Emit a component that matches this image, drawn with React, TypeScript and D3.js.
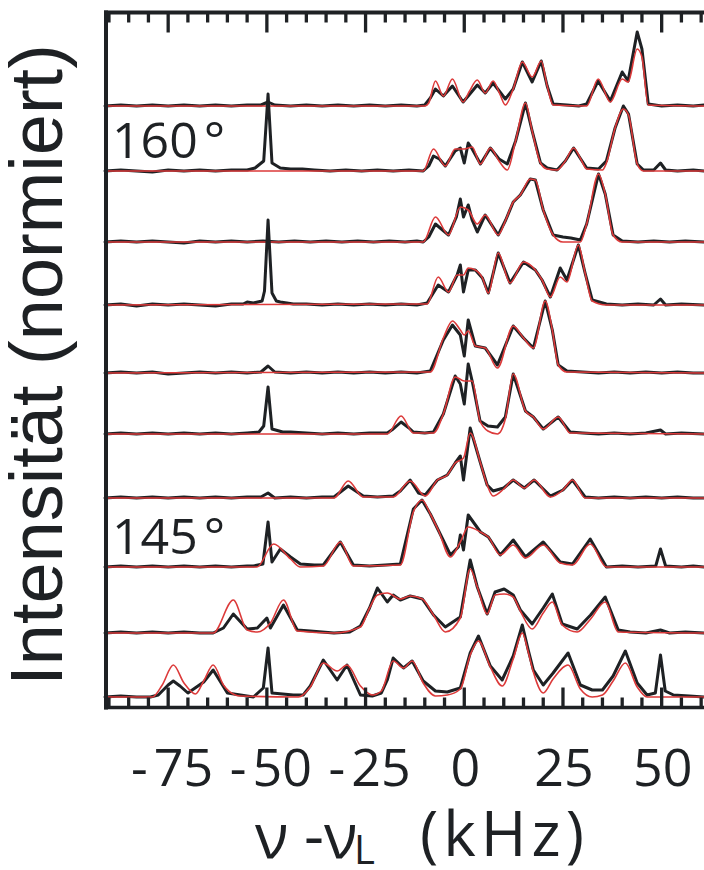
import React from "react";
import * as d3 from "d3";

type P = [number, number];

// x: nu - nu_L (kHz); y: normalized intensity (arbitrary units)
const offsets = [591, 526, 455, 392, 324, 263, 199, 130, 64, 0];

const exp1: P[] = [[-91,0],[-87,1],[-83,0],[-79,1],[-75,0],[-71,1],[-67,0],[-63,1],[-59,0],[-55,1],[-51.5,1],[-49.7,4],[-48,1],[-44,0],[-40,1],[-36,0],[-32,1],[-28,0],[-24,1],[-20,0],[-16,1],[-12,0],[-10,1],[-8.6,8],[-7.3,17],[-5.3,10],[-3.0,20],[-0.3,4],[1,10],[3.3,21],[5.3,13],[7.3,23],[10.4,7],[12.4,17],[14.7,44],[17.2,24],[19.5,45],[21,20],[22.5,2],[26,1],[29,0],[31,2],[33.9,25],[37,5],[40,34],[41.5,25],[43.8,74],[45,57],[46.6,2],[50,0],[54,1],[58,0],[61,1]];
const fit1: P[] = [[-91,0],[-10,0],[-9,3],[-7.3,25],[-5.3,10],[-3.0,27],[-0.3,4],[1.2,14],[3.3,26],[5.3,13],[7.3,25],[9,12],[10.4,1],[12.4,17],[14.7,44],[17.2,29],[19.5,45],[21,20],[22.5,1],[31,0],[33.9,27],[37,4],[40,27],[41.5,24],[43.8,57],[45,49],[46.6,1],[61,0]];

const exp2: P[] = [[-91,0],[-87,1],[-83,0],[-79,-1],[-75,1],[-71,0],[-67,1],[-63,0],[-59,1],[-55,1],[-53,3],[-50.8,10],[-49.7,77],[-48.7,8],[-46.6,3],[-44,2],[-41,2],[-38,1],[-34,0],[-30,1],[-26,0],[-22,1],[-18,0],[-14,1],[-10.4,0],[-9,5],[-7.8,15],[-6.3,12],[-4.8,5],[-2.3,20],[-1,23],[0,8],[1,28],[2,22],[4.1,7],[6.6,23],[8.8,12],[10.9,7],[13,30],[15.5,68],[17.2,40],[19.3,8],[21,3],[23.5,1],[25.6,10],[27.7,23],[29.5,12],[31,3],[34,2],[36,10],[38.2,43],[40.3,65],[41.6,57],[43.8,7],[45.4,1],[48,1],[49.7,8],[51,1],[54,0],[58,1],[61,0]];
const fit2: P[] = [[-91,0],[-10.4,0],[-7.8,22],[-4.8,5],[-2.3,22],[0,22],[2,24],[4.1,7],[6.6,23],[8.8,10],[10.9,1],[13,30],[15.5,68],[17.2,40],[19.3,8],[21,2],[23.5,1],[25.6,10],[27.7,23],[29.5,12],[31,2],[35,1],[36,8],[38.2,43],[40.3,62],[41.6,56],[43.8,7],[45.4,0],[61,0]];

const exp3: P[] = [[-91,0],[-87,1],[-83,0],[-79,1],[-75,0],[-71,-1],[-67,1],[-63,0],[-59,1],[-55,0],[-51,1],[-47,0],[-43,1],[-39,0],[-35,1],[-31,0],[-27,1],[-23,0],[-19,1],[-15,0],[-12,1],[-10.4,0],[-9,5],[-7.3,18],[-4,7],[-2,25],[-1,43],[-0.2,25],[1,37],[2,22],[3.3,10],[5.3,27],[8.6,7],[10.5,22],[12.4,40],[14.2,47],[16.7,63],[18,62],[20,32],[22.5,7],[25,5],[27,4],[29.4,2],[31,18],[34,68],[35.7,48],[37.7,7],[40,1],[44,0],[48,1],[52,0],[56,1],[61,0]];
const fit3: P[] = [[-91,0],[-10.4,0],[-7.3,25],[-4,7],[-1,35],[1,32],[3.3,18],[5.3,27],[8.6,7],[10.5,22],[12.4,40],[14.2,47],[16.7,63],[18,62],[20,32],[22.5,7],[25,0],[29.4,0],[31,18],[34,68],[35.7,48],[37.7,7],[40,0],[61,0]];

const exp4: P[] = [[-91,0],[-87,1],[-83,-1],[-79,1],[-75,0],[-71,1],[-67,0],[-63,-1],[-59,1],[-56,1],[-55,3],[-53.4,2],[-51.2,4],[-50.6,14],[-49.7,85],[-48.7,12],[-47.6,4],[-46.6,3],[-43.3,1],[-40,1],[-36,0],[-32,1],[-28,0],[-24,1],[-20,0],[-16,1],[-12,0],[-9.4,2],[-6.6,20],[-4,13],[-1.8,30],[-1,40],[-0.2,13],[1,35],[2.8,35],[4.6,27],[6.1,12],[8.6,52],[11.6,22],[15,43],[18,35],[19.7,25],[21.8,8],[24.3,37],[26,25],[28.9,60],[30.6,32],[32.4,5],[36,1],[40,0],[44,1],[48,0],[49.7,6],[51,0],[55,1],[61,0]];
const fit4: P[] = [[-91,0],[-9.4,1],[-6.6,28],[-4,13],[-1.8,30],[-0.2,30],[1,37],[2.8,35],[4.6,27],[6.1,12],[8.6,52],[11.6,22],[15,43],[18,35],[19.7,25],[21.8,8],[24.3,28],[26,23],[28.9,60],[30.6,32],[32.4,4],[36,0],[61,0]];

const exp5: P[] = [[-91,0],[-87,1],[-83,0],[-79,1],[-75,-1],[-71,0],[-67,1],[-63,0],[-59,1],[-55,0],[-51.5,1],[-49.7,7],[-48,1],[-44,0],[-40,1],[-36,0],[-32,1],[-28,0],[-24,1],[-20,0],[-16,1],[-12,0],[-8.6,2],[-5.3,33],[-3.0,48],[-1,38],[0,17],[1,53],[2.8,27],[5.3,25],[8.4,8],[12.4,47],[15,35],[17.5,25],[20.5,72],[22.3,43],[23.8,8],[26,2],[30,1],[34,0],[38,1],[42,0],[46,1],[50,0],[54,1],[58,0],[61,0]];
const fit5: P[] = [[-91,0],[-8.6,1],[-5.3,35],[-3.0,52],[-1,43],[0,38],[1,42],[2.8,27],[5.3,25],[8.4,5],[12.4,47],[15,35],[17.5,25],[20.5,72],[22.3,43],[23.8,8],[26,1],[61,0]];

const exp6: P[] = [[-91,0],[-87,1],[-83,0],[-79,1],[-75,0],[-71,1],[-67,0],[-63,1],[-59,0],[-55,1],[-52,2],[-50.8,8],[-49.7,47],[-48.7,5],[-46,2],[-44,2],[-40,1],[-36,0],[-32,1],[-28,0],[-24,1],[-19.5,1],[-18,5],[-16,12],[-14,6],[-12.9,2],[-10,1],[-7.8,2],[-5.3,20],[-2.3,58],[-1,50],[0,30],[1,70],[2,53],[4,13],[6,8],[8.4,7],[10.4,17],[12.4,60],[15.5,23],[17.5,17],[20,5],[23.8,17],[26.8,2],[30,1],[34,0],[38,1],[42,0],[46,1],[49.7,4],[51,0],[55,1],[61,0]];
const fit6: P[] = [[-91,0],[-19.5,0],[-16,18],[-12.9,1],[-7.8,1],[-5.3,20],[-2.3,57],[0,53],[2,53],[4,13],[6,3],[8.4,0],[10.4,15],[12.4,60],[15.5,23],[17.5,17],[20,5],[23.8,17],[26.8,1],[61,0]];

const exp7: P[] = [[-91,0],[-87,1],[-83,0],[-79,1],[-75,0],[-71,1],[-67,0],[-63,1],[-59,0],[-55,1],[-51.5,1],[-49.7,5],[-48,0],[-44,1],[-40,0],[-36,1],[-33,1],[-29.4,12],[-25.6,2],[-22,1],[-18,2],[-16.2,7],[-13.7,18],[-11.6,5],[-9.9,3],[-6.8,18],[-4.3,23],[-2.3,35],[-1,42],[-0.2,18],[1.5,70],[4.1,35],[5.8,13],[7.3,7],[10,10],[12.4,18],[15.2,10],[17.7,18],[21.8,2],[25,8],[27.4,18],[30.6,1],[34,0],[38,1],[42,0],[46,1],[50,0],[54,1],[58,0],[61,0]];
const fit7: P[] = [[-91,0],[-33,0],[-29.4,17],[-25.6,1],[-18,1],[-13.7,17],[-9.9,2],[-6.8,18],[-4.3,23],[-2.3,35],[-0.2,40],[1.5,65],[4.1,35],[5.8,13],[7.3,2],[10,9],[12.4,18],[15.2,10],[17.7,18],[21.8,1],[25,8],[27.4,18],[30.6,0],[61,0]];

const exp8: P[] = [[-91,0],[-87,1],[-83,0],[-79,1],[-75,0],[-71,1],[-67,0],[-63,1],[-59,0],[-55,1],[-53.4,1],[-51,3],[-49.7,45],[-48.7,5],[-46.6,18],[-44,10],[-41.5,3],[-38,2],[-35.7,2],[-31.4,25],[-28.1,2],[-24,1],[-20,2],[-16.2,3],[-12.9,58],[-10.7,67],[-8.6,53],[-6.6,37],[-3.5,12],[-1.5,20],[-1,32],[-0.2,17],[1,52],[4.1,35],[6.1,30],[9.1,12],[12.4,27],[15.5,10],[20,25],[24.3,5],[27.4,3],[31.9,28],[36,0],[40,1],[44,0],[48.5,1],[49.7,18],[51,1],[55,0],[58,1],[61,0]];
const fit8: P[] = [[-91,0],[-52.5,0],[-48.3,23],[-44,8],[-41.5,0],[-35.7,1],[-31.4,25],[-28.1,1],[-16.2,2],[-12.9,55],[-10.7,67],[-8.6,53],[-6.6,37],[-3.5,10],[-1,25],[1,40],[4.1,35],[6.1,30],[9.1,12],[12.4,22],[15.5,9],[20,22],[24.3,4],[27.4,2],[31.9,23],[36,0],[61,0]];

const exp9: P[] = [[-91,0],[-87,1],[-83,0],[-79,1],[-75,0],[-71,1],[-67,0],[-63.6,0],[-61,5],[-58.5,19],[-55,4],[-52.4,5],[-50,15],[-49.1,5],[-45.8,28],[-42.3,3],[-39,2],[-36,1],[-33,0],[-29,1],[-26.3,7],[-24,25],[-22,45],[-19.5,31],[-18,38],[-16.2,33],[-13.7,37],[-10.6,34],[-7.8,18],[-4.8,6],[-1,16],[1.5,73],[3.3,46],[5.8,19],[7.8,41],[10.1,44],[12.4,38],[14.2,23],[17.2,9],[20,25],[22.3,39],[24.8,9],[28.6,4],[32,18],[35.7,36],[39,3],[42,1],[46,0],[49.7,3],[52,0],[56,1],[61,0]];
const fit9: P[] = [[-91,0],[-63.6,0],[-58.5,33],[-55,3],[-52.4,1],[-49.1,10],[-45.8,33],[-42.3,2],[-33,0],[-26.3,6],[-24,25],[-22,38],[-19.5,40],[-16.2,34],[-13.7,37],[-10.6,34],[-7.8,18],[-4.8,1],[-1,15],[1.5,64],[3.3,46],[5.8,19],[7.8,38],[10.1,39],[12.4,36],[14.2,22],[17.2,4],[20,20],[22.3,31],[24.8,8],[28.6,1],[32,14],[35.7,31],[39,1],[61,0]];

const exp10: P[] = [[-91,0],[-87,1],[-83,0],[-79.5,0],[-77.5,2],[-75,12],[-73.7,16],[-72,11],[-70,4],[-66,15],[-63.6,27],[-60,4],[-56.7,2],[-53.4,0],[-50.9,9],[-49.7,49],[-48.7,4],[-46,3],[-43.3,2],[-40.8,2],[-39,11],[-35.7,37],[-32.2,17],[-29.7,32],[-26.3,2],[-23.3,1],[-21,4],[-19.5,17],[-18,39],[-15.4,29],[-13.2,36],[-10.4,16],[-7.3,6],[-4.3,5],[-1,9],[1.5,44],[3.6,61],[6.6,31],[9.6,17],[12.4,41],[14.7,72],[16.2,47],[17.5,27],[20,12],[22.5,24],[26.3,44],[29.4,12],[32.4,7],[35,7],[37.7,21],[40.8,46],[43.8,14],[46.3,2],[48.4,4],[49.7,42],[50.9,6],[53,2],[57,1],[61,0]];
const fit10: P[] = [[-91,0],[-79,0],[-76.5,12],[-73.7,32],[-71,14],[-68.1,3],[-66,16],[-63.6,32],[-61,12],[-58,2],[-56.7,1],[-42,0],[-39,10],[-35.7,34],[-32.2,26],[-29.7,32],[-26.3,11],[-23.3,2],[-21,6],[-18,36],[-15.4,29],[-13.2,36],[-10.4,14],[-7.3,1],[-4.3,2],[-1,8],[1.5,42],[3.6,56],[6.6,30],[9.6,11],[12.4,38],[14.7,64],[16.2,45],[17.5,25],[20,4],[22.5,18],[26.3,32],[29.4,8],[32.4,0],[35,2],[37.7,16],[40.8,34],[43.8,10],[46.3,0],[61,0]];

const expSeries = [exp1, exp2, exp3, exp4, exp5, exp6, exp7, exp8, exp9, exp10];
const fitSeries = [fit1, fit2, fit3, fit4, fit5, fit6, fit7, fit8, fit9, fit10];

const xTickLabels = [-75, -50, -25, 0, 25, 50];
const angleLabels = [
  { trace: 1, text: "160" },
  { trace: 7, text: "145" },
];

const W = 704;
const H = 870;
const INK = "#1e2124";
const RED = "#dc3a3a";

export default function App() {
  const x = d3.scaleLinear().domain([-91, 61]).range([105, 705.1]);
  const y = d3.scaleLinear().domain([0, 687]).range([697, 10]);

  const lineFor = (off: number, curve: d3.CurveFactory) =>
    d3
      .line<P>()
      .x((d) => x(d[0]))
      .y((d) => y(d[1] + off))
      .curve(curve);

  const ticks = d3.range(-90, 61, 5);
  const left = 106;
  const topY = 12.5;
  const botY = 707.5;

  return (
    <svg
      width={W}
      height={H}
      style={{ position: "absolute", left: 0, top: 0, background: "#fff" }}
    >
      <rect width={W} height={H} fill="#fff" />
      {/* traces */}
      <g fill="none" strokeLinejoin="round" strokeLinecap="round">
        {expSeries.map((s, i) => (
          <g key={i}>
            <path
              d={lineFor(offsets[i], d3.curveLinear)(s) || ""}
              stroke={INK}
              strokeWidth={3}
            />
            <path
              d={lineFor(offsets[i], d3.curveMonotoneX)(fitSeries[i]) || ""}
              stroke={RED}
              strokeWidth={1.6}
            />
          </g>
        ))}
      </g>
      {/* frame */}
      <g stroke={INK} fill="none">
        <line x1={left - 2} x2={W} y1={topY} y2={topY} strokeWidth={4} />
        <line x1={left} x2={left} y1={topY - 2} y2={botY + 2} strokeWidth={4} />
        <line x1={left - 2} x2={W} y1={botY} y2={botY} strokeWidth={3.6} />
        {ticks.map((t) => {
          const major = t % 25 === 0;
          const len = major ? 20 : 10;
          return (
            <g key={t}>
              <line x1={x(t)} x2={x(t)} y1={topY} y2={topY + len} strokeWidth={3.3} />
              <line x1={x(t)} x2={x(t)} y1={botY} y2={botY - len} strokeWidth={3.3} />
            </g>
          );
        })}
      </g>
      {/* tick labels */}
      <g fontFamily="'Open Sans', sans-serif" fontSize={52} fill={INK} textAnchor="middle">
        {xTickLabels.map((t) => (
          <text key={t} x={x(t) + (t < 0 ? 4 : 1)} y={786}>
            {t < 0 ? (
              <>
                <tspan>-</tspan>
                <tspan dx={6}>{Math.abs(t)}</tspan>
              </>
            ) : (
              String(t)
            )}
          </text>
        ))}
      </g>
      {/* angle labels */}
      <g fontFamily="'Open Sans', sans-serif" fontSize={50} fill={INK}>
        {angleLabels.map((a) => (
          <text key={a.text} x={112} y={y(offsets[a.trace]) - 13}>
            {a.text}
            <tspan dx={6}>°</tspan>
          </text>
        ))}
      </g>
      {/* x axis title */}
      <g fontFamily="'Open Sans', sans-serif" fill={INK}>
        <text x={255} y={858} fontSize={62}>ν</text>
        <text x={304} y={858} fontSize={62}>-ν</text>
        <text x={354} y={864} fontSize={40}>L</text>
        <text x={420} y={856} fontSize={62} letterSpacing={5}>(kHz)</text>
      </g>
      {/* y axis title */}
      <text
        transform="translate(62,365) rotate(-90)"
        textAnchor="middle"
        fontFamily="'Liberation Sans', Arial, sans-serif"
        fontSize={74}
        fill={INK}
      >
        Intensität (normiert)
      </text>
    </svg>
  );
}
